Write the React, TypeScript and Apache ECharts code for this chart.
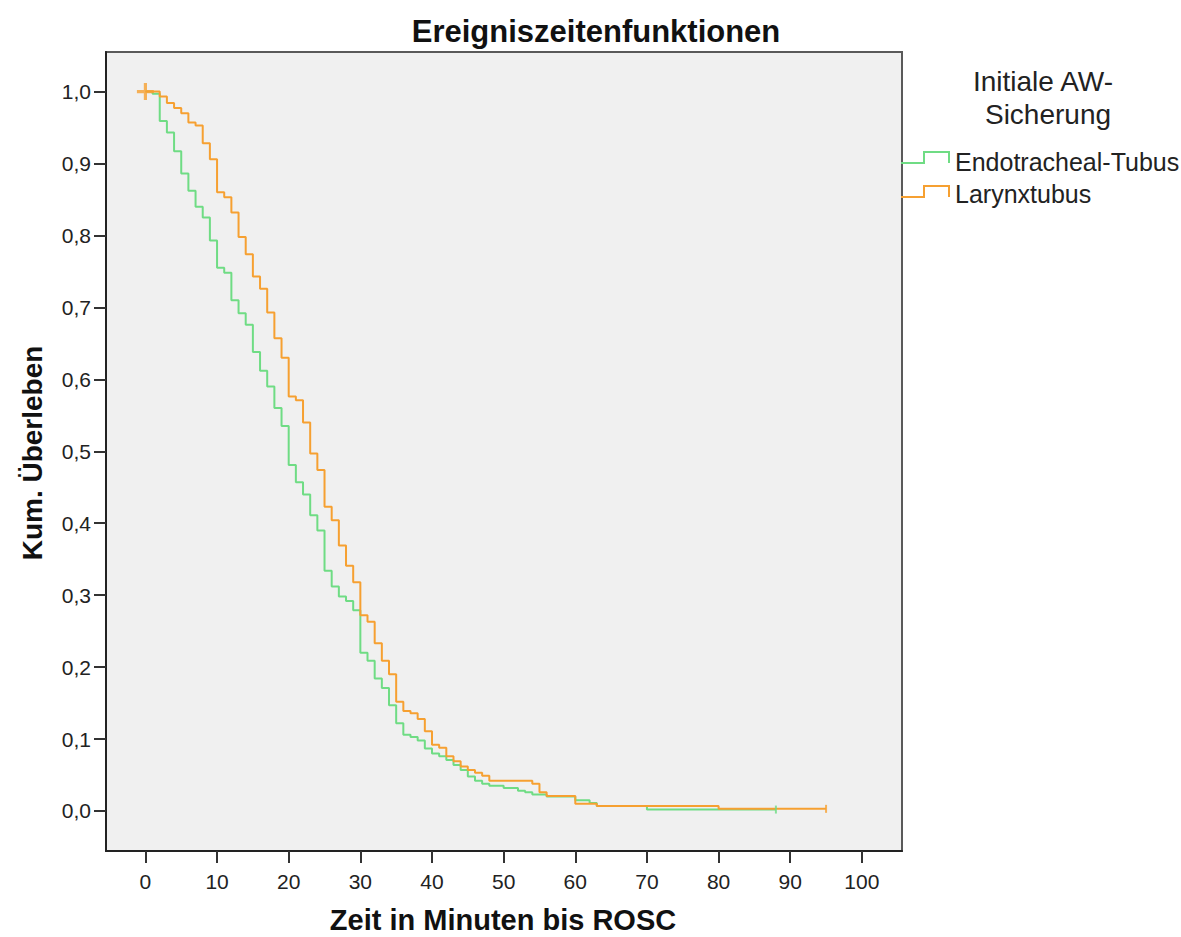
import React, { useEffect, useRef } from "react";
import * as echarts from "echarts";

const titleText = "Ereigniszeitenfunktionen";
const xAxisTitle = "Zeit in Minuten bis ROSC";
const yAxisTitle = "Kum. Überleben";
const legendTitle = ["Initiale AW-", "Sicherung"];
const groupNames = ["Endotracheal-Tubus", "Larynxtubus"];
const xTicks = [0, 10, 20, 30, 40, 50, 60, 70, 80, 90, 100];
const yTicks = [0, 0.1, 0.2, 0.3, 0.4, 0.5, 0.6, 0.7, 0.8, 0.9, 1.0];

// Endotracheal-Tubus (green)
const etTimes = [0, 1, 2, 3, 4, 5, 6, 7, 8, 9, 10, 11, 12, 13, 14, 15, 16, 17, 18, 19, 20, 21, 22, 23, 24, 25, 26, 27, 28, 29, 30, 31, 32, 33, 34, 35, 36, 37, 38, 39, 40, 41, 42, 43, 44, 45, 46, 47, 48, 50, 52, 53, 54, 56, 60, 62, 63, 70, 88];
const etSurv = [1.0, 0.997, 0.959, 0.943, 0.917, 0.886, 0.862, 0.84, 0.825, 0.793, 0.755, 0.748, 0.71, 0.692, 0.676, 0.638, 0.612, 0.59, 0.56, 0.535, 0.481, 0.457, 0.44, 0.411, 0.39, 0.334, 0.312, 0.298, 0.292, 0.279, 0.22, 0.209, 0.184, 0.171, 0.147, 0.122, 0.106, 0.103, 0.098, 0.087, 0.08, 0.076, 0.071, 0.064, 0.057, 0.048, 0.042, 0.038, 0.035, 0.032, 0.028, 0.026, 0.023, 0.02, 0.015, 0.011, 0.007, 0.002, 0.002];

// Larynxtubus (orange)
const ltTimes = [0, 2, 3, 4, 5, 6, 7, 8, 9, 10, 11, 12, 13, 14, 15, 16, 17, 18, 19, 20, 21, 22, 23, 24, 25, 26, 27, 28, 29, 30, 31, 32, 33, 34, 35, 36, 37, 38, 39, 40, 41, 42, 43, 44, 45, 46, 47, 48, 54, 55, 56, 60, 63, 80, 95];
const ltSurv = [1.0, 0.993, 0.984, 0.977, 0.97, 0.957, 0.953, 0.928, 0.906, 0.86, 0.853, 0.832, 0.798, 0.774, 0.743, 0.726, 0.693, 0.657, 0.63, 0.576, 0.571, 0.54, 0.497, 0.474, 0.423, 0.404, 0.369, 0.341, 0.318, 0.272, 0.263, 0.233, 0.209, 0.19, 0.152, 0.139, 0.136, 0.128, 0.111, 0.092, 0.088, 0.076, 0.069, 0.062, 0.057, 0.053, 0.049, 0.042, 0.038, 0.026, 0.021, 0.01, 0.007, 0.003, 0.003];

// censored marks
const ltCensorStart = [[0, 1.0]];
const etCensorEnd = [[88, 0.002]];
const ltCensorEnd = [[95, 0.003]];

const GREEN = "#6fdc84";
const ORANGE = "#f6a031";
const FONT = "'Liberation Sans', Arial, sans-serif";

export default function App() {
  const ref = useRef<HTMLDivElement>(null);
  useEffect(() => {
    const chart = echarts.init(ref.current!, null, { renderer: "svg" });
    const etData = etTimes.map((t, i) => [t, etSurv[i]]);
    const ltData = ltTimes.map((t, i) => [t, ltSurv[i]]);
    const plusPath = "path://M-1.5,-8h3v6.5h6.5v3h-6.5v6.5h-3v-6.5h-6.5v-3h6.5z";
    const txt = (text: string, x: number, y: number, size: number, opts: any = {}) => ({
      type: "text",
      x,
      y,
      rotation: opts.rotation || 0,
      style: {
        text,
        x: 0,
        y: 0,
        align: opts.align || "center",
        verticalAlign: "middle",
        fontSize: size,
        fontWeight: opts.bold ? "bold" : "normal",
        fontFamily: FONT,
        fill: opts.bold ? "#111" : "#222",
      },
    });
    chart.setOption({
      animation: false,
      backgroundColor: "#ffffff",
      textStyle: { fontFamily: FONT },
      grid: {
        left: 106,
        top: 52,
        right: 279,
        bottom: 86,
        show: true,
        backgroundColor: "#f0f0f0",
        borderColor: "#5a5a5a",
        borderWidth: 2,
      },
      xAxis: {
        type: "value",
        min: -5.5,
        max: 105.6,
        axisLine: { show: true, onZero: false, lineStyle: { color: "#222", width: 2 } },
        axisTick: { show: true, customValues: xTicks, length: 12, lineStyle: { color: "#333", width: 2 } },
        axisLabel: {
          customValues: xTicks,
          margin: 20,
          fontSize: 21,
          color: "#222",
          fontFamily: FONT,
        },
        splitLine: { show: false },
      },
      yAxis: {
        type: "value",
        min: -0.0556,
        max: 1.055,
        axisLine: { show: true, onZero: false, lineStyle: { color: "#222", width: 2 } },
        axisTick: { show: true, customValues: yTicks, length: 12, lineStyle: { color: "#333", width: 2 } },
        axisLabel: {
          customValues: yTicks,
          margin: 15,
          fontSize: 21,
          color: "#222",
          fontFamily: FONT,
          formatter: (v: number) => v.toFixed(1).replace(".", ","),
        },
        splitLine: { show: false },
      },
      series: [
        {
          name: groupNames[0],
          type: "line",
          step: "end",
          data: etData,
          showSymbol: false,
          lineStyle: { color: GREEN, width: 2 },
          z: 2,
        },
        {
          name: groupNames[1],
          type: "line",
          step: "end",
          data: ltData,
          showSymbol: false,
          lineStyle: { color: ORANGE, width: 2 },
          z: 3,
        },
        {
          type: "scatter",
          data: etCensorEnd,
          symbol: "rect",
          symbolSize: [2, 8],
          itemStyle: { color: GREEN },
          z: 4,
        },
        {
          type: "scatter",
          data: ltCensorEnd,
          symbol: "rect",
          symbolSize: [2, 8],
          itemStyle: { color: ORANGE },
          z: 4,
        },
        {
          type: "scatter",
          data: ltCensorStart,
          symbol: plusPath,
          symbolSize: 17,
          itemStyle: { color: ORANGE },
          z: 5,
        },
      ],
      graphic: [
        txt(titleText, 596, 31, 31, { bold: true }),
        txt(yAxisTitle, 32, 453, 28, { bold: true, rotation: Math.PI / 2 }),
        txt(xAxisTitle, 503, 920, 29, { bold: true }),
        txt(legendTitle[0], 1043, 81, 28),
        txt(legendTitle[1], 1048, 114, 28),
        {
          type: "polyline",
          shape: { points: [[901, 163], [924, 163], [924, 152], [949, 152], [949, 163]] },
          style: { stroke: GREEN, lineWidth: 2, fill: null },
        },
        {
          type: "polyline",
          shape: { points: [[901, 197], [924, 197], [924, 186], [949, 186], [949, 197]] },
          style: { stroke: ORANGE, lineWidth: 2, fill: null },
        },
        txt(groupNames[0], 955, 162, 25, { align: "left" }),
        txt(groupNames[1], 955, 194, 25, { align: "left" }),
      ],
    });
    return () => chart.dispose();
  }, []);
  return (
    <div
      ref={ref}
      style={{ position: "absolute", left: 0, top: 0, width: 1181, height: 937 }}
    />
  );
}
